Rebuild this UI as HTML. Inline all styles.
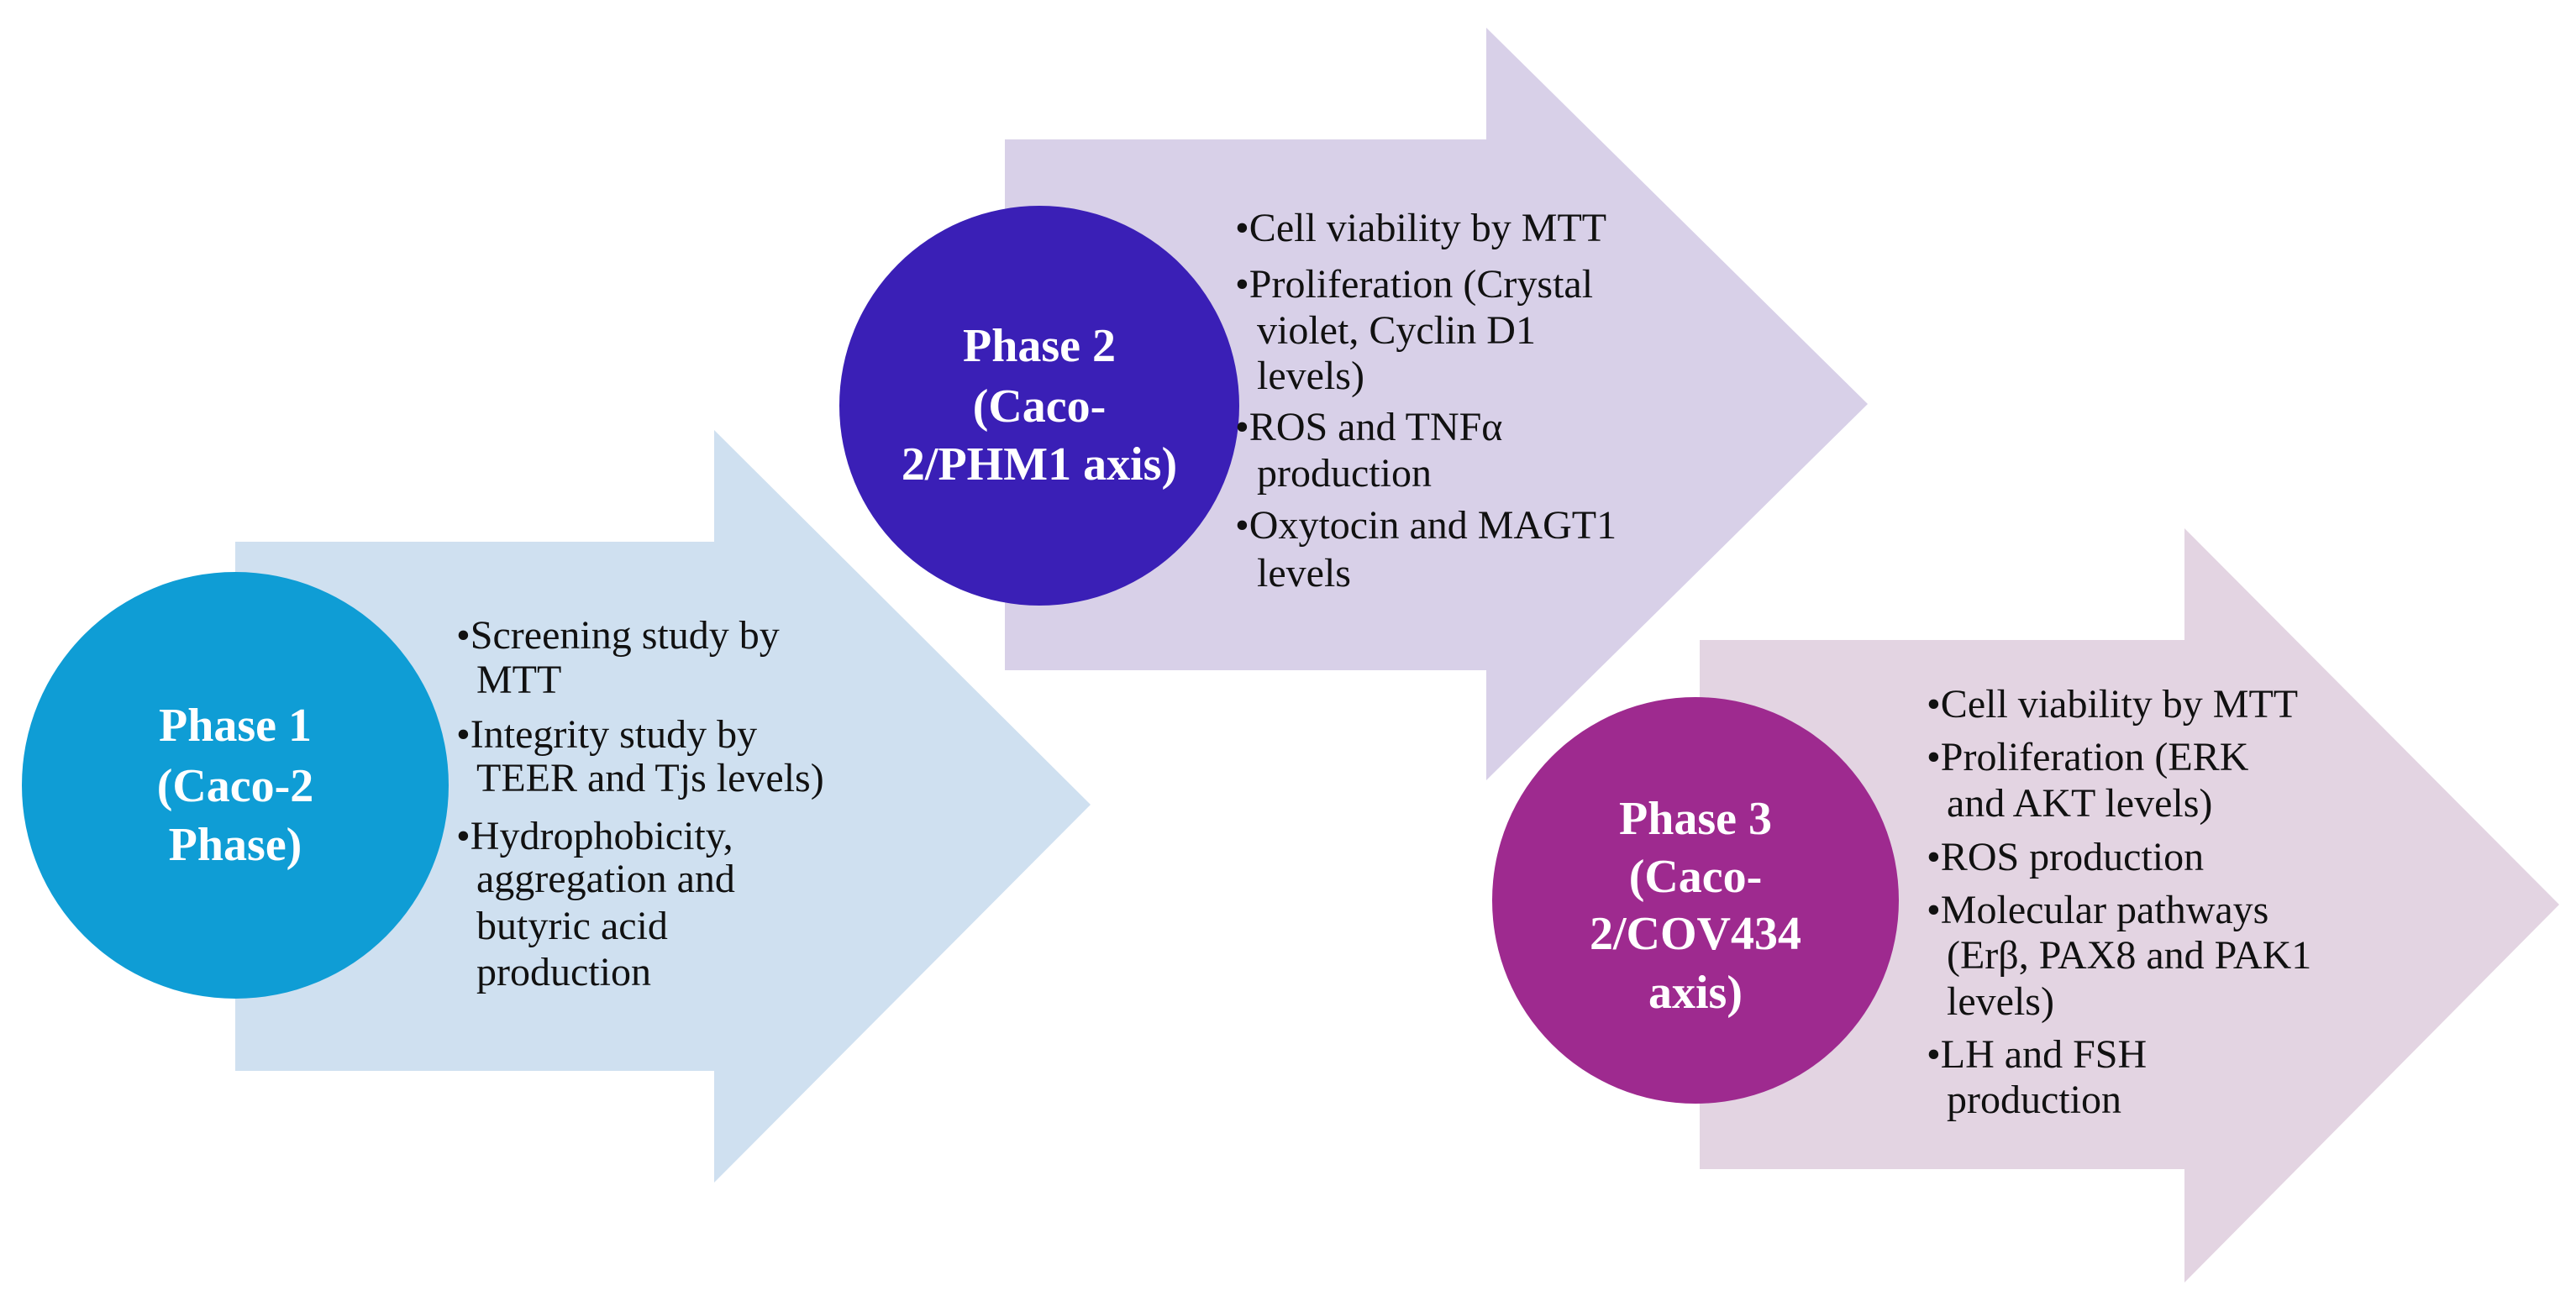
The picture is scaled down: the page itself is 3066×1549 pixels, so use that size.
<!DOCTYPE html>
<html><head><meta charset="utf-8"><style>
html,body{margin:0;padding:0;background:#fff}
svg{display:block}
text{font-family:"Liberation Serif",serif}
.t{font-size:48px;fill:#111}
.c{font-size:56px;fill:#fff;text-anchor:middle;font-weight:bold}
</style></head><body>
<svg width="3066" height="1549" viewBox="0 0 3066 1549">
<polygon points="280,645 850,645 850,512 1298,958 850,1408 850,1275 280,1275" fill="#cfe0f0"/>
<polygon points="1196,166 1769,166 1769,33 2223,481 1769,929 1769,798 1196,798" fill="#d8d0e8"/>
<polygon points="2023,762 2600,762 2600,629 3046,1077 2600,1527 2600,1392 2023,1392" fill="#e3d4e2"/>
<circle cx="280" cy="935" r="254" fill="#0f9dd5"/>
<circle cx="1237" cy="483" r="238" fill="#3a1fb6"/>
<circle cx="2018" cy="1072" r="242" fill="#9e2a8f"/>
<g class="c">
<text x="280" y="882">Phase 1</text><text x="280" y="954">(Caco-2</text><text x="280" y="1024">Phase)</text>
<text x="1237" y="430">Phase 2</text><text x="1237" y="502">(Caco-</text><text x="1237" y="571">2/PHM1 axis)</text>
<text x="2018" y="993">Phase 3</text><text x="2018" y="1062">(Caco-</text><text x="2018" y="1130">2/COV434</text><text x="2018" y="1200">axis)</text>
</g>
<g class="t">
<text x="543" y="772">•Screening study by</text><text x="567" y="825">MTT</text>
<text x="543" y="890">•Integrity study by</text><text x="567" y="942">TEER and Tjs levels)</text>
<text x="543" y="1011">•Hydrophobicity,</text><text x="567" y="1062">aggregation and</text><text x="567" y="1118">butyric acid</text><text x="567" y="1173">production</text>
<text x="1470" y="287">•Cell viability by MTT</text>
<text x="1470" y="354">•Proliferation (Crystal</text><text x="1496" y="409">violet, Cyclin D1</text><text x="1496" y="463">levels)</text>
<text x="1470" y="524">•ROS and TNFα</text><text x="1496" y="579">production</text>
<text x="1470" y="641">•Oxytocin and MAGT1</text><text x="1496" y="698">levels</text>
<text x="2293" y="854">•Cell viability by MTT</text>
<text x="2293" y="917">•Proliferation (ERK</text><text x="2317" y="972">and AKT levels)</text>
<text x="2293" y="1036">•ROS production</text>
<text x="2293" y="1099">•Molecular pathways</text><text x="2317" y="1153">(Erβ, PAX8 and PAK1</text><text x="2317" y="1208">levels)</text>
<text x="2293" y="1271">•LH and FSH</text><text x="2317" y="1325">production</text>
</g>
</svg>
</body></html>
